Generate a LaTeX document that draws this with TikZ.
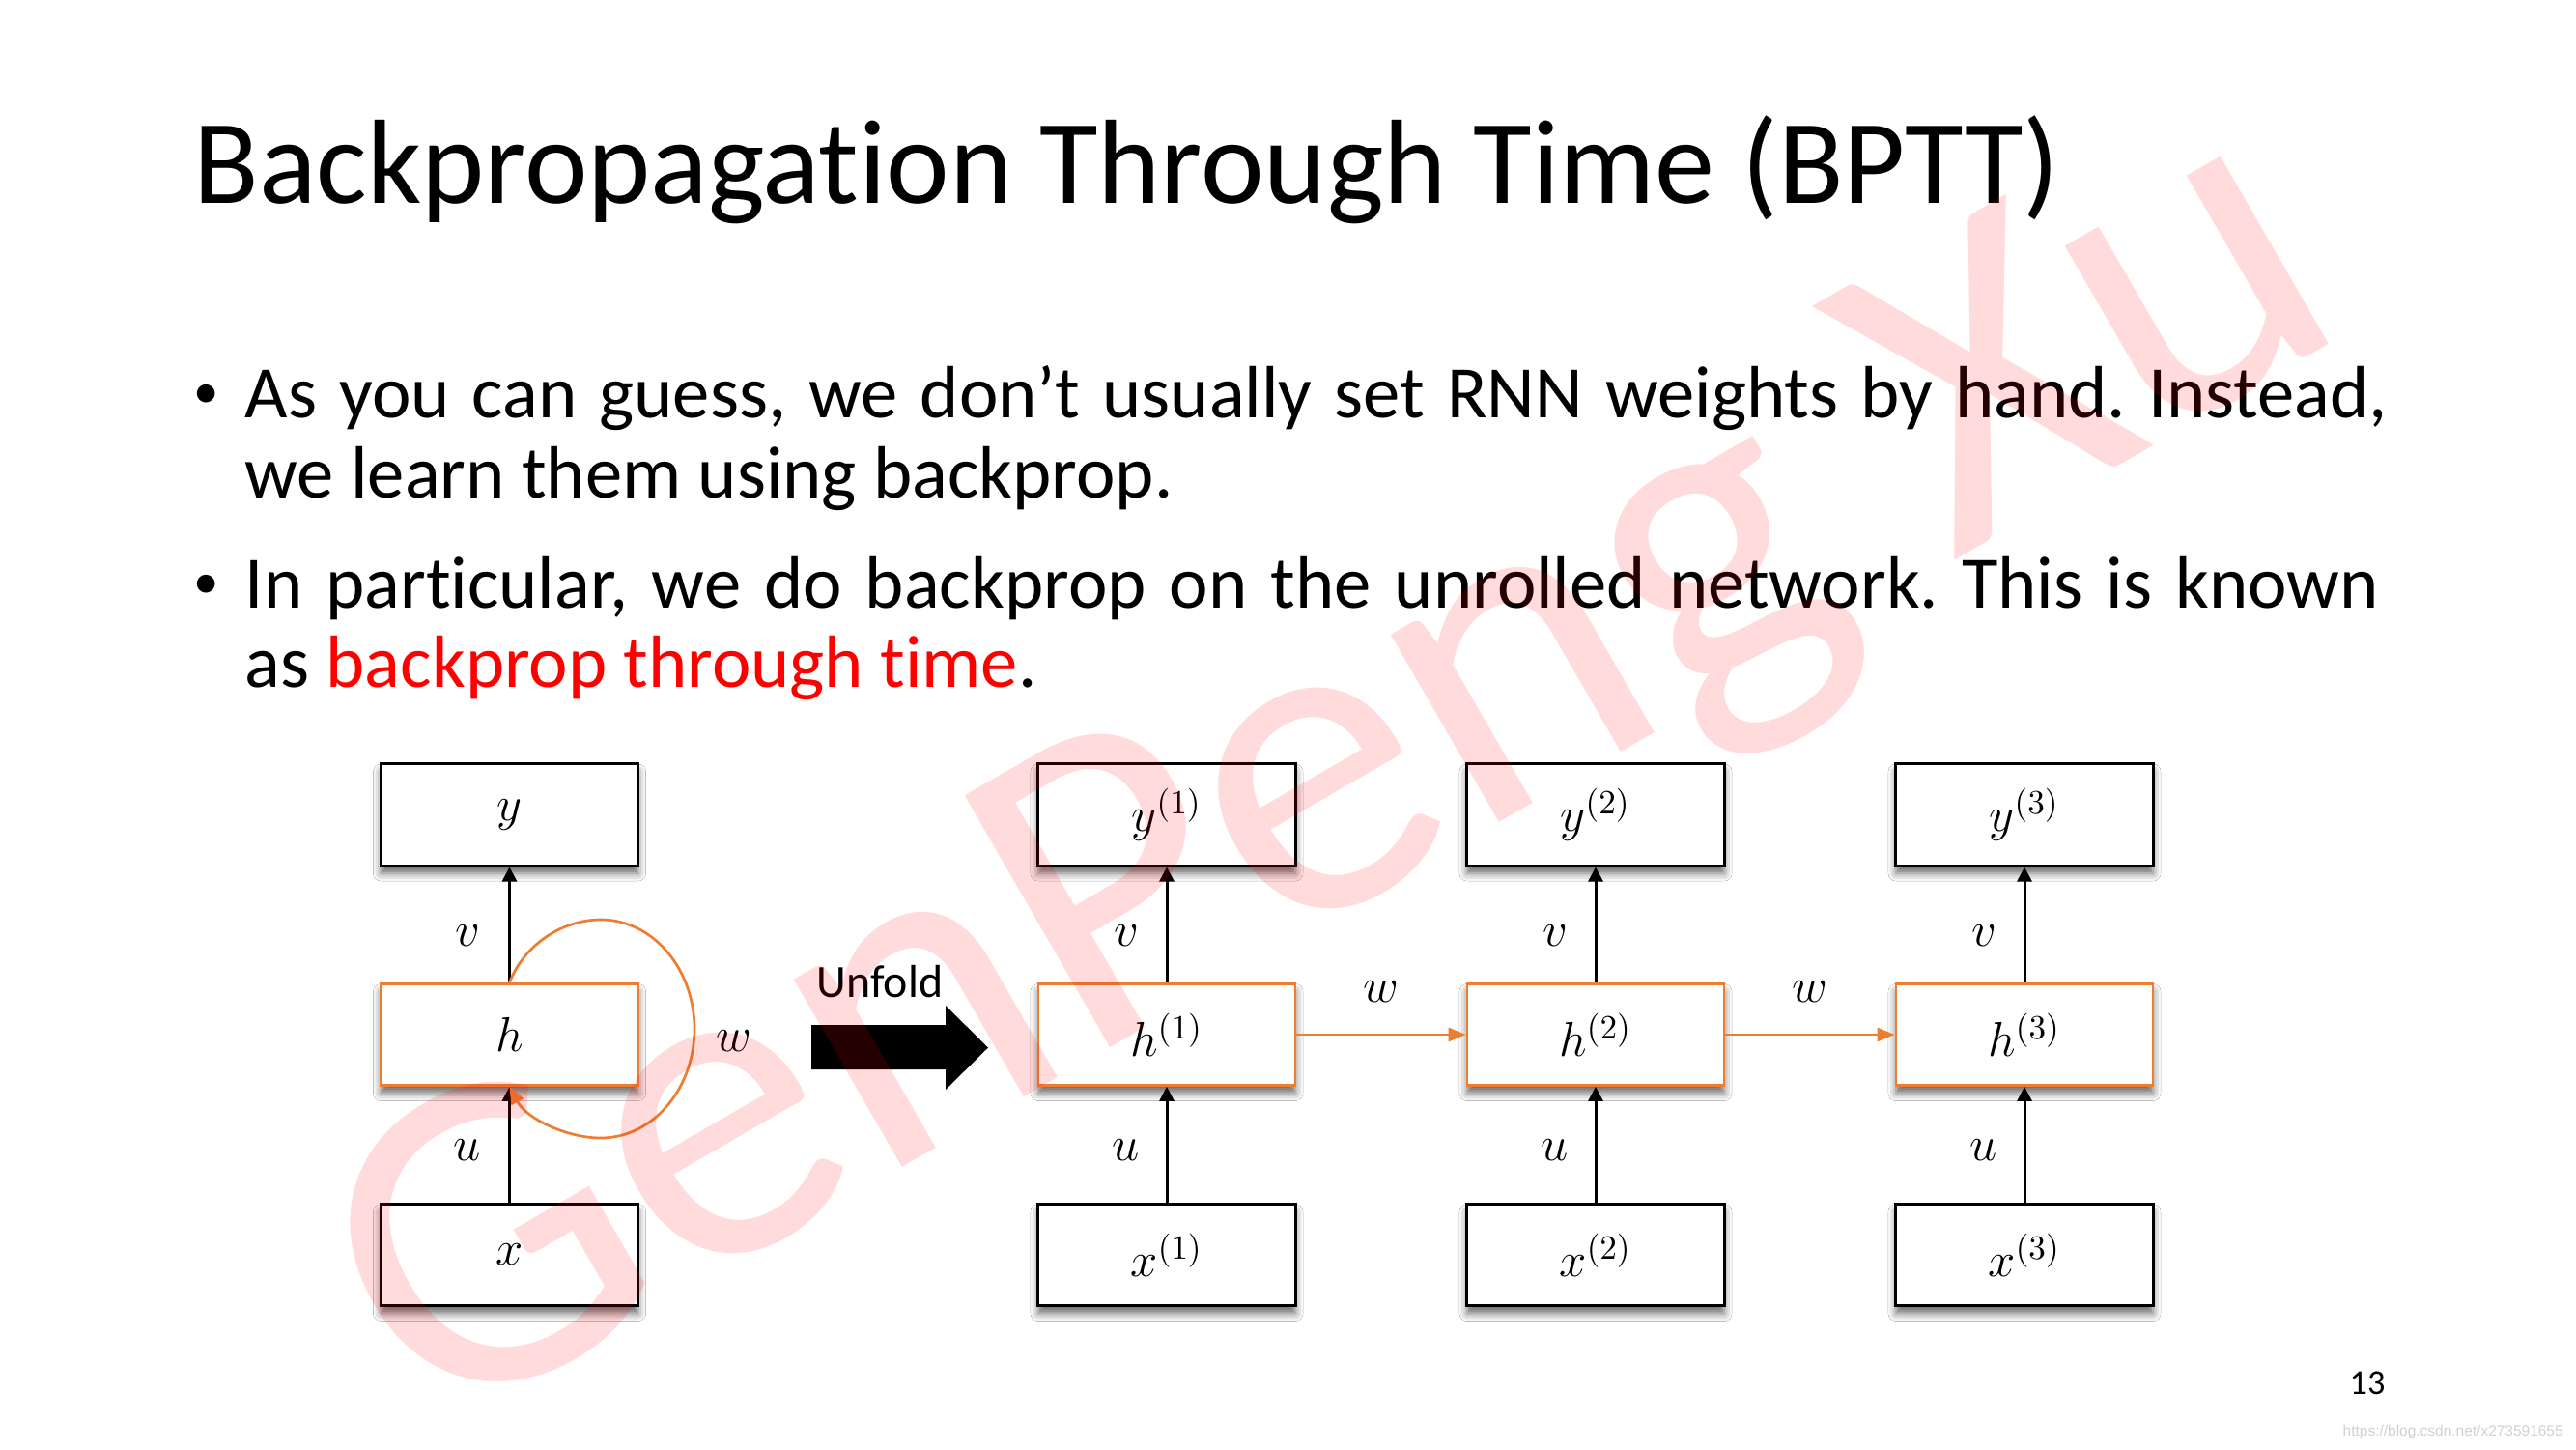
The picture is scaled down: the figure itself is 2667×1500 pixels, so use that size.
\documentclass[tikz,border=0pt]{standalone}
\usepackage{fontspec}
\setmainfont{Carlito}[Ligatures=NoCommon]
\newfontfamily\wmfont{Carlito}[Ligatures=NoCommon]
\newfontfamily\urlfont{Liberation Sans}
\usetikzlibrary{arrows.meta,shadows.blur}
\definecolor{boxorange}{RGB}{237,125,49}
\definecolor{hlred}{RGB}{255,0,0}
\frenchspacing
\tikzset{
  cell/.style={draw=black, line width=0.03cm, fill=white, minimum width=2.66cm,
    minimum height=1.05cm, inner sep=0pt,
    blur shadow={shadow xshift=0cm, shadow yshift=-0.08cm, shadow blur radius=0.08cm, shadow opacity=60},
    font=\fontsize{13.9}{16}\selectfont},
  hcell/.style={cell, draw=boxorange, line width=0.026cm},
  uparr/.style={-{Triangle[width=0.15cm,length=0.15cm]}, line width=0.03cm},
  warr/.style={-{Triangle[width=0.14cm,length=0.18cm]}, draw=boxorange, fill=none, line width=0.027cm},
  lab/.style={inner sep=0pt, font=\fontsize{13.9}{16}\selectfont},
  txt/.style={anchor=base west, inner sep=0pt, font=\fontsize{21.8}{26}\selectfont},
  dot/.style={inner sep=0pt, font=\fontsize{15}{18}\selectfont},
}
\begin{document}
\begin{tikzpicture}[x=0.01cm, y=-0.01cm]
\fill[white] (0,0) rectangle (2667,1500);
\useasboundingbox (0,0) rectangle (2667,1500);

% title
\node[anchor=base west, inner sep=0pt, font=\fontsize{35.3}{40}\selectfont] (title) at (200,210) {Backpropagation Through Time (BPTT)};

% bullets
\node[dot] (d1) at (214,410) {•};
\node[txt] (l1) at (253,432) {\makebox[22.17cm][s]{As you can guess, we don’t usually set RNN weights by hand. Instead,}};
\node[txt] (l2) at (253,515) {we learn them using backprop.};
\node[dot] (d2) at (214,607) {•};
\node[txt] (l3) at (253,629) {\makebox[22.08cm][s]{In particular, we do backprop on the unrolled network. This is known}};
\node[txt] (l4) at (253,711) {as \textcolor{hlred}{backprop through time}.};

% folded network
\node[cell] (y0) at (527.5,843.5) {$y$};
\node[hcell] (h0) at (527.5,1071) {$h$};
\node[cell] (x0) at (527.5,1299) {$x$};
\draw[uparr] (x0.north) -- (h0.south);
\draw[uparr] (h0.north) -- (y0.south);
\node[lab] (v0) at (484,969) {$v$};
\node[lab] (u0) at (484,1191) {$u$};
\node[lab] (w0) at (760,1078) {$w$};
\draw[warr] (h0.north) .. controls (543,977) and (583,952) .. (622,952)
  .. controls (676,952) and (719,1003) .. (719,1065)
  .. controls (719,1127) and (676,1178) .. (622,1178)
  .. controls (587,1178) and (545,1158) .. (h0.south);

% unfold arrow
\node[anchor=base west, inner sep=0pt, font=\fontsize{13.6}{16}\selectfont] (unf) at (845,1032) {Unfold};
\fill[black] (840,1061) -- (979,1061) -- (979,1041) -- (1023,1084.5) -- (979,1128) -- (979,1107) -- (840,1107) -- cycle;

% unrolled network
\foreach \i/\cx in {1/1208,2/1652,3/2096}{
  \node[cell] (y\i) at (\cx,843.5) {$y^{(\i)}$};
  \node[hcell] (h\i) at (\cx,1071) {$h^{(\i)}$};
  \node[cell] (x\i) at (\cx,1299) {$x^{(\i)}$};
  \draw[uparr] (x\i.north) -- (h\i.south);
  \draw[uparr] (h\i.north) -- (y\i.south);
  \node[lab] (v\i) at (\cx-42,969) {$v$};
  \node[lab] (u\i) at (\cx-42,1191) {$u$};
}
\draw[warr] (h1.east) -- (h2.west);
\draw[warr] (h2.east) -- (h3.west);
\node[lab] (w1) at (1430,1027) {$w$};
\node[lab] (w2) at (1874,1027) {$w$};

% page number and url
\node[anchor=base west, inner sep=0pt, font=\fontsize{10.3}{12}\selectfont] (pg) at (2432,1443) {13};
\node[anchor=base west, inner sep=0pt, text=black!18, font=\urlfont\fontsize{4.4}{5}\selectfont] (url) at (2425,1486) {https://blog.csdn.net/x273591655};

% watermark
\node[anchor=base west, inner sep=0pt, rotate=30, text=red, text opacity=0.14, font=\wmfont\fontsize{133.5}{138}\selectfont] (wm) at (447,1490) {GenPeng Xu};
\end{tikzpicture}
\end{document}
